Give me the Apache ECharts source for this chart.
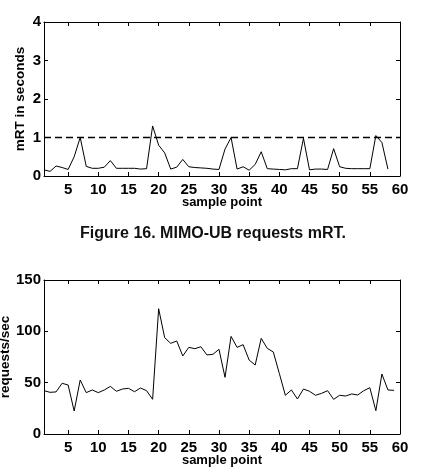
<!DOCTYPE html>
<html>
<head>
<meta charset="utf-8">
<script src="https://cdn.jsdelivr.net/npm/echarts@6/dist/echarts.min.js"></script>
<style>
html,body{margin:0;padding:0;background:#fff;}
#chart{width:426px;height:476px;}
</style>
</head>
<body>
<div id="chart"></div>
<script>
// Top chart: mRT in seconds per sample point
const mrtSamples = [1,2,3,4,5,6,7,8,9,10,11,12,13,14,15,16,17,18,19,20,21,22,23,24,25,26,27,28,29,30,31,32,33,34,35,36,37,38,39,40,41,42,43,44,45,46,47,48,49,50,51,52,53,54,55,56,57,58];
const mrtValues = [0.16,0.12,0.26,0.22,0.17,0.5,1.0,0.25,0.2,0.2,0.23,0.4,0.2,0.2,0.2,0.2,0.18,0.19,1.3,0.8,0.6,0.18,0.23,0.43,0.24,0.22,0.21,0.2,0.18,0.17,0.7,1.0,0.18,0.24,0.15,0.3,0.63,0.19,0.18,0.17,0.16,0.19,0.19,0.98,0.16,0.18,0.18,0.17,0.71,0.24,0.2,0.19,0.19,0.19,0.19,1.05,0.87,0.18];
const thresholdX = [1, 60];
const thresholdY = [1, 1];
// Bottom chart: requests/sec per sample point
const reqSamples = [1,2,3,4,5,6,7,8,9,10,11,12,13,14,15,16,17,18,19,20,21,22,23,24,25,26,27,28,29,30,31,32,33,34,35,36,37,38,39,40,41,42,43,44,45,46,47,48,49,50,51,52,53,54,55,56,57,58,59];
const reqValues = [42.2,40.6,41,49.4,47.7,22.4,52.6,40.3,42.9,40.3,42.9,46.4,41.6,43.8,44.5,41.2,44.8,42.2,33.8,122,93.8,88.3,90.6,76,84.4,83.1,85,77,77.6,82.5,55.2,95.1,84.4,87,72,67.2,93.2,83.4,79.9,59,37.7,42.9,34.1,43.8,41.6,37.7,39.6,42.2,33.8,37.7,37,39,38,42.2,45.1,22.7,58.4,42.9,42.5];
const xTickLabels = [5,10,15,20,25,30,35,40,45,50,55,60];
const xTickMarks = [5,10,15,20,25,30,35,40,45,50,55];
const caption = 'Figure 16. MIMO-UB requests mRT.';

const FONT = '"Liberation Sans", Arial, sans-serif';
const lblStyle = {color:'#000', fontFamily: FONT, fontWeight:'bold', fontSize:15};
const axisLine = {show:true, onZero:false, lineStyle:{color:'#000', width:1}};

function xAxes(gridIndex){
  return [{
    type:'value', gridIndex, min:1, max:60, position:'bottom',
    axisLine, splitLine:{show:false},
    axisTick:{show:true, inside:true, length:4, customValues:xTickMarks, lineStyle:{color:'#000'}},
    axisLabel:Object.assign({margin:6, customValues:xTickLabels}, lblStyle),
    name:'sample point', nameLocation:'middle', nameGap:20, nameMoveOverlap:false,
    nameTextStyle:{color:'#000', fontFamily:FONT, fontWeight:'bold', fontSize:13}
  },{
    type:'value', gridIndex, min:1, max:60, position:'top',
    axisLine, splitLine:{show:false},
    axisTick:{show:true, inside:true, length:4, customValues:xTickMarks, lineStyle:{color:'#000'}},
    axisLabel:{show:false}
  }];
}
function yAxes(gridIndex, max, interval, name, gap){
  return [{
    type:'value', gridIndex, min:0, max, interval, position:'left',
    axisLine, splitLine:{show:false},
    axisTick:{show:true, inside:true, length:4, lineStyle:{color:'#000'}},
    axisLabel:Object.assign({margin:3}, lblStyle),
    name, nameLocation:'middle', nameGap:gap, nameMoveOverlap:false,
    nameTextStyle:{color:'#000', fontFamily:FONT, fontWeight:'bold', fontSize:13.5}
  },{
    type:'value', gridIndex, min:0, max, interval, position:'right',
    axisLine, splitLine:{show:false},
    axisTick:{show:true, inside:true, length:4, lineStyle:{color:'#000'}},
    axisLabel:{show:false}
  }];
}

const chart = echarts.init(document.getElementById('chart'), null, {renderer:'canvas'});
chart.setOption({
  animation:false,
  backgroundColor:'#fff',
  title:{text:caption, left:'center', top:221,
    textStyle:{color:'#111', fontFamily:FONT, fontWeight:'bold', fontSize:16}},
  grid:[
    {left:44, right:26, top:22, height:154, outerBoundsMode:'none', containLabel:false},
    {left:44, right:26, top:280, height:154, outerBoundsMode:'none', containLabel:false}
  ],
  xAxis:[...xAxes(0), ...xAxes(1)],
  yAxis:[...yAxes(0,4,1,'mRT in seconds',17), ...yAxes(1,150,50,'requests/sec',32)],
  series:[
    {type:'line', xAxisIndex:0, yAxisIndex:0, symbol:'none',
      data: mrtSamples.map((x,i)=>[x, mrtValues[i]]),
      lineStyle:{color:'#000', width:1}},
    {type:'line', xAxisIndex:0, yAxisIndex:0, symbol:'none',
      data: thresholdX.map((x,i)=>[x, thresholdY[i]]),
      lineStyle:{color:'#000', width:1.5, type:[7,4]}},
    {type:'line', xAxisIndex:2, yAxisIndex:2, symbol:'none',
      data: reqSamples.map((x,i)=>[x, reqValues[i]]),
      lineStyle:{color:'#000', width:1}}
  ]
});
</script>
</body>
</html>
